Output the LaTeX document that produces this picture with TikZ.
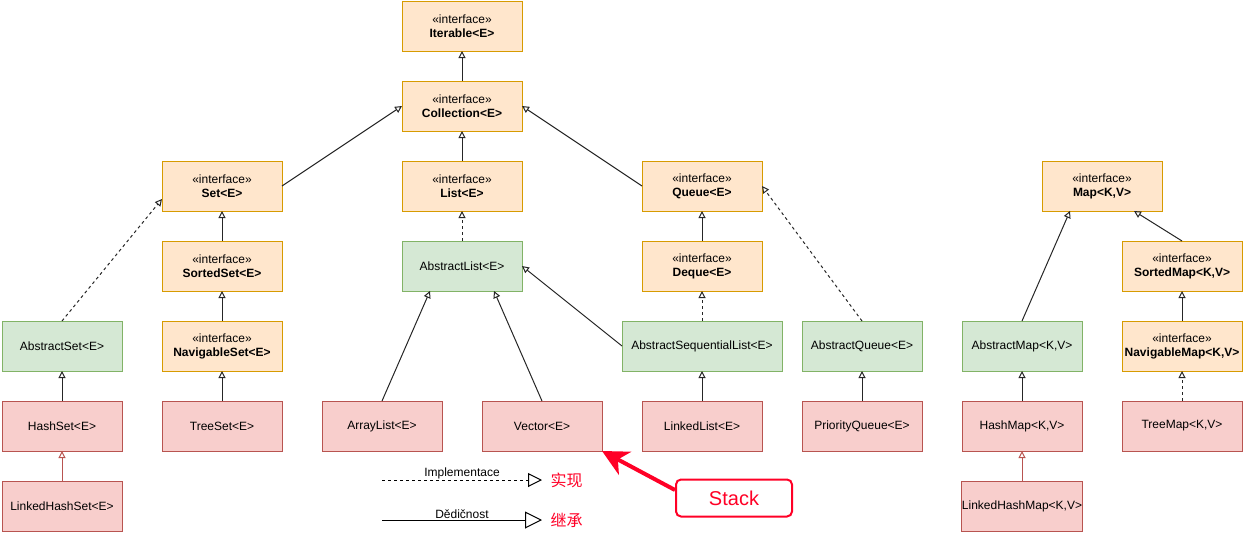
\documentclass[tikz,border=0pt]{standalone}
\usepackage{fontspec}
\setmainfont{Liberation Sans}
\newfontfamily\cjk{Noto Sans CJK SC}
\usepackage{tikz}
\usetikzlibrary{arrows.meta,positioning}
\definecolor{ifill}{HTML}{FFE6CC}
\definecolor{idraw}{HTML}{D79B00}
\definecolor{afill}{HTML}{D5E8D4}
\definecolor{adraw}{HTML}{82B366}
\definecolor{cfill}{HTML}{F8CECC}
\definecolor{cdraw}{HTML}{B85450}
\definecolor{stackred}{HTML}{FF0026}

\begin{document}
\begin{tikzpicture}[x=1pt,y=-1pt,
    every node/.style={font=\fontsize{12}{14}\selectfont},
    box/.style={draw,line width=1pt,minimum width=120pt,minimum height=50pt,
      inner sep=0pt,outer sep=0pt,align=center},
    iface/.style={box,fill=ifill,draw=idraw},
    abst/.style={box,fill=afill,draw=adraw},
    conc/.style={box,fill=cfill,draw=cdraw},
    inherit/.style={line width=1pt,draw=black!85,
      -{Triangle[open,length=7pt,width=7pt]}},
    impl/.style={inherit,dash pattern=on 3pt off 3pt},
    node distance=30pt]
    \useasboundingbox (0,0) rectangle (1245,541);

    \node[iface] (iter) at (462,26) {«interface»\\\textbf{Iterable<E>}};
    \node[iface,below=of iter] (coll) {«interface»\\\textbf{Collection<E>}};
    \node[iface,below=of coll] (list) {«interface»\\\textbf{List<E>}};
    \node[iface,left=120pt of list] (set) {«interface»\\\textbf{Set<E>}};
    \node[iface,right=120pt of list] (queue) {«interface»\\\textbf{Queue<E>}};
    \node[iface,below=of set] (sset) {«interface»\\\textbf{SortedSet<E>}};
    \node[iface,below=of sset] (nset) {«interface»\\\textbf{NavigableSet<E>}};
    \node[abst,left=40pt of nset] (aset) {AbstractSet<E>};
    \node[conc,below=of aset] (hset) {HashSet<E>};
    \node[conc,below=of hset] (lhset) {LinkedHashSet<E>};
    \node[conc,below=of nset] (tset) {TreeSet<E>};
    \node[abst,below=of list] (alist) {AbstractList<E>};
    \node[iface,below=of queue] (deque) {«interface»\\\textbf{Deque<E>}};
    \node[abst,below=of deque,minimum width=160pt] (aslist) {AbstractSequentialList<E>};
    \node[conc,below=of aslist] (llist) {LinkedList<E>};
    \node[conc,left=40pt of llist] (vect) {Vector<E>};
    \node[conc,left=40pt of vect] (alst) {ArrayList<E>};
    \node[abst,right=20pt of aslist] (aqueue) {AbstractQueue<E>};
    \node[conc,below=of aqueue] (pqueue) {PriorityQueue<E>};
    \node[abst,right=40pt of aqueue] (amap) {AbstractMap<K,V>};
    \node[conc,below=of amap] (hmap) {HashMap<K,V>};
    \node[conc,below=of hmap] (lhmap) {LinkedHashMap<K,V>};
    \node[iface,right=40pt of amap] (nmap) {«interface»\\\textbf{NavigableMap<K,V>}};
    \node[iface,above=of nmap] (smap) {«interface»\\\textbf{SortedMap<K,V>}};
    \node[iface,above=of smap,xshift=-80pt] (map) {«interface»\\\textbf{Map<K,V>}};
    \node[conc,below=of nmap] (tmap) {TreeMap<K,V>};

    \draw[inherit] (coll) -- (iter);
    \draw[inherit] (list) -- (coll);
    \draw[inherit] (set.east) -- (coll.west);
    \draw[inherit] (queue.west) -- (coll.east);
    \draw[inherit] (sset) -- (set);
    \draw[inherit] (nset) -- (sset);
    \draw[inherit] (tset) -- (nset);
    \draw[impl] (aset.north) -- ([yshift=12pt]set.south west);
    \draw[inherit] (hset) -- (aset);
    \draw[inherit,draw=cdraw] (lhset) -- (hset);
    \draw[impl] (alist) -- (list);
    \draw[inherit] (alst.north) -- ([xshift=-32pt]alist.south);
    \draw[inherit] (vect.north) -- ([xshift=32pt]alist.south);
    \draw[inherit] (aslist.west) -- (alist.east);
    \draw[inherit] (deque) -- (queue);
    \draw[impl] (aslist) -- (deque);
    \draw[inherit] (llist) -- (aslist);
    \draw[impl] (aqueue.north) -- (queue.east);
    \draw[inherit] (pqueue) -- (aqueue);
    \draw[inherit] (amap.north) -- ([xshift=-32pt]map.south);
    \draw[inherit] (smap.north) -- ([xshift=32pt]map.south);
    \draw[inherit] (nmap) -- (smap);
    \draw[impl] (tmap) -- (nmap);
    \draw[inherit] (hmap) -- (amap);
    \draw[inherit,draw=cdraw] (lhmap) -- (hmap);

    \coordinate (i1) at (382,480);
    \coordinate (i2) at (542,480);
    \coordinate (d1) at (382,520);
    \coordinate (d2) at (542,520);
    \draw[line width=1pt,dash pattern=on 3pt off 3pt,
      -{Triangle[open,length=14pt,width=14pt]}]
      (i1) -- node[above,inner sep=1pt] {Implementace} (i2);
    \draw[line width=1pt,-{Triangle[open,length=17pt,width=17pt]}]
      (d1) -- node[above,inner sep=1pt] {Dědičnost} (d2);
    \node[text=stackred,font=\cjk\fontsize{16}{18}\selectfont,right=5pt of i2] (impltxt) {实现};
    \node[text=stackred,font=\cjk\fontsize{16}{18}\selectfont,right=5pt of d2] (inhtxt) {继承};

    \node[draw=stackred,line width=2pt,rounded corners=5pt,fill=white,
      minimum width=116pt,minimum height=37pt,text=stackred,
      font=\fontsize{20}{24}\selectfont] (stack) at (734,498) {Stack};
    \draw[stackred,line width=4pt,-{Stealth[length=26pt,width=26pt,inset=8pt]}]
      ([yshift=8pt]stack.west) -- (vect.south east);
\end{tikzpicture}
\end{document}
